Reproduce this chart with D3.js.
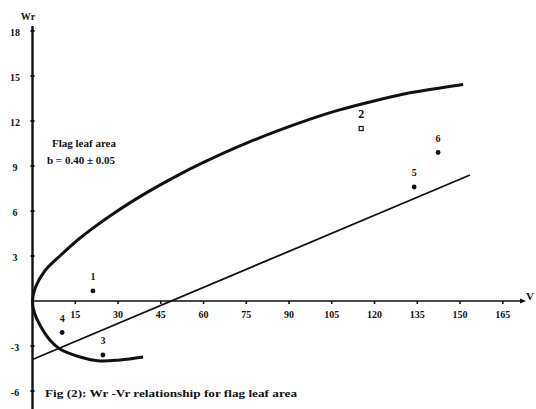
<!DOCTYPE html>
<html>
<head>
<meta charset="utf-8">
<script src="https://cdn.jsdelivr.net/npm/d3@7"></script>
<style>
  html, body { margin: 0; padding: 0; background: #fff; }
  svg text { font-family: "Liberation Serif", "DejaVu Serif", serif; font-weight: bold; fill: #111; }
</style>
</head>
<body>
<svg id="chart" width="536" height="409"></svg>
<script>
// ── Data ──────────────────────────────────────────────────
const xTicks = [15, 30, 45, 60, 75, 90, 105, 120, 135, 150, 165];
const yTicks = [18, 15, 12, 9, 6, 3, -3, -6];

const pointIds = ['1', '2', '3', '4', '5', '6'];
const pointVr  = [21.2, 115.3, 24.7, 10.4, 133.9, 142.3];
const pointWr  = [0.67, 11.5, -3.6, -2.1, 7.6, 9.9];

// limiting parabola, traced from lower tail through origin to upper end
const curveVr = [38.8, 30.7, 23.7, 16.7, 9.6, 6.1, 2.6, 0.7, 0, 1.0, 4.3, 9.6, 16.7, 28.2, 40.2, 51.8, 59.8, 76.3, 93.9, 106.8, 118.4, 132.5, 151.1];
const curveWr = [-3.73, -3.93, -4.0, -3.73, -3.2, -2.6, -1.6, -0.8, 0, 0.9, 2.0, 3.0, 4.2, 5.8, 7.24, 8.46, 9.22, 10.62, 11.89, 12.69, 13.27, 13.88, 14.44];

// regression line endpoints
const lineVr = [0, 153.5];
const lineWr = [-3.9, 8.4];

// ── Scales ────────────────────────────────────────────────
const svg = d3.select('#chart');
const x = d3.scaleLinear().domain([0, 165]).range([32.5, 502.8]);
const y = d3.scaleLinear().domain([0, 18]).range([301, 31]);

// Axes
svg.append('line')
  .attr('x1', x(0)).attr('x2', x(0)).attr('y1', 26).attr('y2', 409)
  .attr('stroke', '#111').attr('stroke-width', 2.4);

svg.append('line')
  .attr('x1', x(0)).attr('x2', 520).attr('y1', y(0)).attr('y2', y(0))
  .attr('stroke', '#111').attr('stroke-width', 1.6);
svg.append('path')
  .attr('d', `M520,${y(0) - 2.5}L526,${y(0)}L520,${y(0) + 2.5}Z`)
  .attr('fill', '#111');

// y ticks
const yg = svg.append('g');
yTicks.forEach(t => {
  yg.append('line')
    .attr('x1', x(0) - 2).attr('x2', x(0) + 2)
    .attr('y1', y(t)).attr('y2', y(t))
    .attr('stroke', '#111').attr('stroke-width', 2);
  yg.append('text')
    .attr('x', 15).attr('y', y(t) + 3)
    .attr('text-anchor', 'middle').attr('dominant-baseline', 'middle')
    .attr('font-size', 10)
    .text(t < 0 ? '-' + Math.abs(t) : t);
});

// x ticks
const xg = svg.append('g');
xTicks.forEach(t => {
  xg.append('line')
    .attr('x1', x(t)).attr('x2', x(t))
    .attr('y1', y(0)).attr('y2', y(0) + 3)
    .attr('stroke', '#111').attr('stroke-width', 1.6);
  xg.append('text')
    .attr('x', x(t)).attr('y', 316)
    .attr('text-anchor', 'middle').attr('dominant-baseline', 'middle')
    .attr('font-size', 10)
    .text(t);
});

// axis titles
svg.append('text').attr('x', 28).attr('y', 18)
  .attr('text-anchor', 'middle').attr('dominant-baseline', 'middle')
  .attr('font-size', 10).text('Wr');
svg.append('text').attr('x', 530).attr('y', 297)
  .attr('text-anchor', 'middle').attr('dominant-baseline', 'middle')
  .attr('font-size', 11).attr('font-weight', 'normal').text('V');

// parabola
const curvePts = curveVr.map((v, i) => [v, curveWr[i]]);
svg.append('path')
  .datum(curvePts)
  .attr('d', d3.line().x(d => x(d[0])).y(d => y(d[1])).curve(d3.curveCatmullRom.alpha(0.5)))
  .attr('fill', 'none').attr('stroke', '#111').attr('stroke-width', 3);

// regression line
svg.append('line')
  .attr('x1', x(lineVr[0])).attr('y1', y(lineWr[0]))
  .attr('x2', x(lineVr[1])).attr('y2', y(lineWr[1]))
  .attr('stroke', '#111').attr('stroke-width', 1.8);

// array points
pointIds.forEach((id, i) => {
  const px = x(pointVr[i]), py = y(pointWr[i]);
  if (id === '2') {
    svg.append('rect')
      .attr('x', px - 2).attr('y', py - 2).attr('width', 4).attr('height', 4)
      .attr('fill', 'none').attr('stroke', '#111').attr('stroke-width', 1.2);
  } else {
    svg.append('circle').attr('cx', px).attr('cy', py).attr('r', 2.4).attr('fill', '#111');
  }
  svg.append('text')
    .attr('x', px).attr('y', py - 13)
    .attr('text-anchor', 'middle').attr('dominant-baseline', 'middle')
    .attr('font-size', id === '2' ? 12 : 10)
    .text(id);
});

// annotation
svg.append('text').attr('x', 52).attr('y', 147)
  .attr('font-size', 11).text('Flag leaf area');
svg.append('text').attr('x', 47).attr('y', 164)
  .attr('font-size', 11).text('b = 0.40 \u00b1 0.05');

// caption
svg.append('text').attr('x', 45).attr('y', 397)
  .attr('font-size', 11).attr('textLength', 252).attr('lengthAdjust', 'spacingAndGlyphs')
  .text('Fig (2): Wr -Vr relationship for flag leaf area');
</script>
</body>
</html>
